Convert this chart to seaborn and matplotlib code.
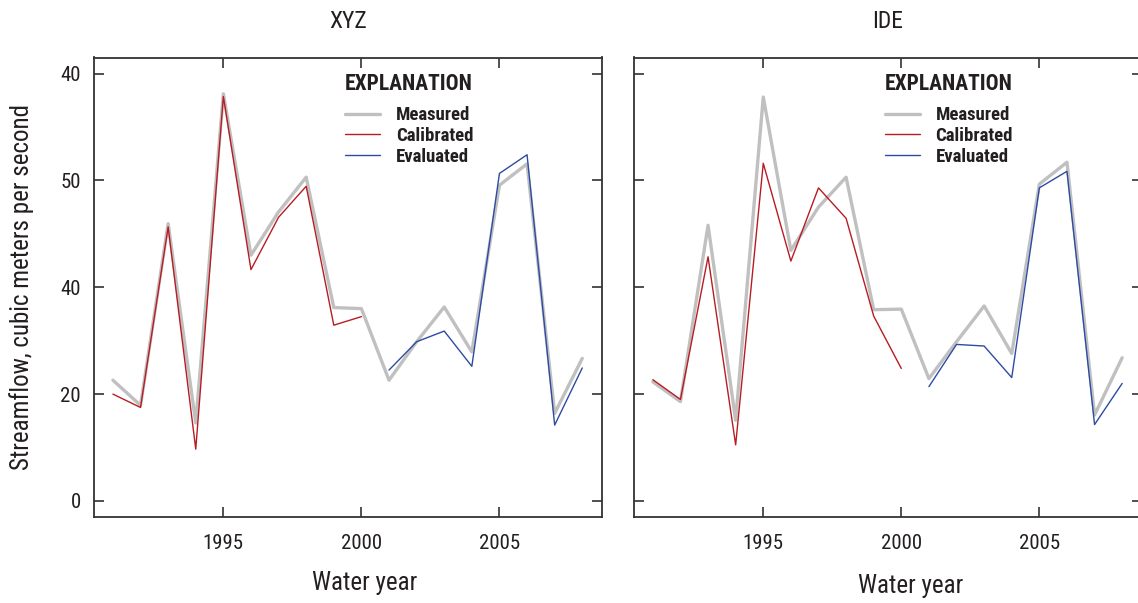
import os
import numpy as np
import pandas as pd
import matplotlib
matplotlib.use("Agg")
import matplotlib.pyplot as plt
from matplotlib import font_manager
from matplotlib.font_manager import FontProperties
import seaborn as sns

# ---- data -------------------------------------------------------------
years = list(range(1991, 2009))
cal_years = list(range(1991, 2001))
eval_years = list(range(2001, 2009))

xyz_measured = [22.6, 17.9, 51.9, 14.6, 76.2, 46.0, 54.1, 60.6, 36.2, 36.0,
                22.6, 29.8, 36.3, 27.9, 59.1, 63.1, 16.4, 26.7]
xyz_calibrated = [20.0, 17.5, 51.3, 9.7, 75.7, 43.3, 53.1, 58.9, 32.9, 34.5]
xyz_evaluated = [24.5, 29.8, 31.8, 25.2, 61.3, 64.8, 14.2, 24.9]

ide_measured = [22.3, 18.6, 51.6, 15.1, 75.6, 46.9, 55.0, 60.6, 35.8, 35.9,
                22.9, 29.8, 36.5, 27.6, 59.3, 63.4, 16.1, 26.8]
ide_calibrated = [22.7, 19.0, 45.7, 10.5, 63.2, 44.9, 58.6, 52.9, 34.6, 24.8]
ide_evaluated = [21.4, 29.3, 29.0, 23.1, 58.6, 61.7, 14.3, 22.0]

panel_titles = ["XYZ", "IDE"]
series_names = ["Measured", "Calibrated", "Evaluated"]
ytick_values = [0, 20, 40, 60, 80]
ytick_labels = ["0", "20", "40", "50", "40"]
xtick_values = [1995, 2000, 2005]

# ---- fonts ------------------------------------------------------------
def find_font(prefixes, bold):
    files = [f.fname for f in font_manager.fontManager.ttflist]
    for pre in prefixes:
        for fn in sorted(files):
            base = os.path.basename(fn)
            if not base.lower().startswith(pre.lower()):
                continue
            low = base.lower()
            if "italic" in low or "oblique" in low:
                continue
            is_bold = "bold" in low and "semibold" not in low and "extrabold" not in low
            if is_bold != bold:
                continue
            if not bold and any(w in low for w in ["light", "thin", "medium", "black", "semibold", "extrabold"]):
                continue
            return fn
    return None

narrow = ["LiberationSansNarrow", "RobotoCondensed", "Roboto_Condensed",
          "DejaVuSansCondensed", "NotoSans-Condensed", "OpenSans_Condensed",
          "OpenSans-Condensed"]
reg_file = find_font(narrow, False)
bold_file = find_font(narrow, True)

def fp(size, bold=False):
    f = bold_file if bold else reg_file
    if f:
        return FontProperties(fname=f, size=size)
    return FontProperties(family="Liberation Sans", size=size * 0.85,
                          weight="bold" if bold else "normal")

# ---- style ------------------------------------------------------------
sns.set_theme(style="ticks")
plt.rcParams["font.family"] = ["Liberation Sans", "DejaVu Sans"]
ink = "#231f20"
c_meas = "#c0c0c0"
c_cal = "#b81c22"
c_eval = "#2e4ba3"

fig = plt.figure(figsize=(11.38, 6.03), dpi=100)
W, H = 1138.0, 603.0
ax_w = 508.0
ax_top, ax_bot = 57.5, 517.0
lefts = [93.6, 633.5]

panels = [
    (xyz_measured, xyz_calibrated, xyz_evaluated),
    (ide_measured, ide_calibrated, ide_evaluated),
]
xlabel_x = [0.534, 0.546]
xlabel_y = [-0.118, -0.125]

for i, (meas, cal, ev) in enumerate(panels):
    ax = fig.add_axes([lefts[i] / W, 1 - ax_bot / H, ax_w / W, (ax_bot - ax_top) / H])
    sns.lineplot(x=years, y=meas, ax=ax, color=c_meas, linewidth=2.4,
                 label=series_names[0], zorder=2)
    sns.lineplot(x=cal_years, y=cal, ax=ax, color=c_cal, linewidth=1.0,
                 label=series_names[1], zorder=3)
    sns.lineplot(x=eval_years, y=ev, ax=ax, color=c_eval, linewidth=1.0,
                 label=series_names[2], zorder=3)

    ax.set_xlim(1990.3, 2008.7)
    ax.set_ylim(-3, 83)
    ax.set_xticks(xtick_values)
    ax.set_yticks(ytick_values)
    ax.tick_params(axis="both", which="major", direction="in", length=7,
                   width=1.1, color=ink, top=True, right=True)
    ax.tick_params(axis="x", pad=12)
    ax.tick_params(axis="y", pad=9)
    for lab in ax.get_xticklabels():
        lab.set_fontproperties(fp(15))
        lab.set_color(ink)
    if i == 0:
        ax.set_yticklabels(ytick_labels)
        for lab in ax.get_yticklabels():
            lab.set_fontproperties(fp(15))
            lab.set_color(ink)
        ax.set_ylabel("Streamflow, cubic meters per second",
                      fontproperties=fp(18), color=ink, labelpad=19)
    else:
        ax.set_yticklabels([])
        ax.set_ylabel("")
    ax.set_xlabel("Water year", fontproperties=fp(18), color=ink)
    ax.xaxis.set_label_coords(xlabel_x[i], xlabel_y[i])
    ax.set_title(panel_titles[i], fontproperties=fp(17), color=ink, pad=21)

    for sp in ax.spines.values():
        sp.set_visible(True)
        sp.set_linewidth(1.3)
        sp.set_color("#333333")

    leg = ax.legend(loc="upper left", bbox_to_anchor=(0.495, 0.966),
                    frameon=False, handlelength=1.85, handletextpad=0.85,
                    labelspacing=0.15, borderaxespad=0, borderpad=0,
                    prop=fp(13.5, bold=True), title="EXPLANATION",
                    title_fontproperties=fp(15.5, bold=True), alignment="left")
    leg.get_title().set_color(ink)
    leg._legend_box.sep = 8
    for t in leg.get_texts():
        t.set_color(ink)

fig.savefig("out.png", dpi=100)
